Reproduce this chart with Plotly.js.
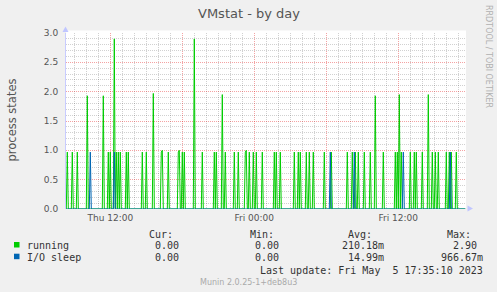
<!DOCTYPE html>
<html><head><meta charset="utf-8">
<script src="https://cdn.plot.ly/plotly-3.0.1.min.js"></script>
<style>html,body{margin:0;padding:0;background:#f0f0f0;}#chart{width:497px;height:292px;}</style>
</head><body><div id="chart"></div>
<script>
// ---- data (5-minute samples, zero elsewhere) ----
const startTime = 'Thu 08:20';
const endTime = 'Fri 17:35';
const runningTimes = [
  'Thu 08:25','Thu 08:50','Thu 09:15','Thu 10:05','Thu 11:25','Thu 11:50','Thu 12:00','Thu 12:20',
  'Thu 12:30','Thu 12:40','Thu 12:50','Thu 13:20','Thu 13:30','Thu 14:40','Thu 15:00','Thu 15:35',
  'Thu 16:15','Thu 16:20','Thu 16:50','Thu 17:40','Thu 17:45','Thu 18:00','Thu 18:10','Thu 19:00',
  'Thu 19:40','Thu 20:40','Thu 20:50','Thu 21:20','Thu 21:35','Thu 22:20','Thu 22:40','Thu 23:15',
  'Thu 23:20','Thu 23:35','Thu 23:55','Fri 00:10','Fri 00:40','Fri 01:40','Fri 01:50','Fri 02:10',
  'Fri 03:20','Fri 03:40','Fri 03:50','Fri 04:20','Fri 04:35','Fri 04:55','Fri 05:50','Fri 06:25',
  'Fri 07:45','Fri 08:10','Fri 08:25','Fri 08:40','Fri 09:10','Fri 09:40','Fri 10:05','Fri 10:45',
  'Fri 11:45','Fri 11:55','Fri 12:05','Fri 12:15','Fri 13:00','Fri 13:20','Fri 13:30','Fri 14:00',
  'Fri 14:30','Fri 14:50','Fri 15:05','Fri 15:20','Fri 16:00','Fri 16:15','Fri 16:25','Fri 16:50'
];
const runningValues = [
  0.97,0.97,0.97,1.93,1.93,0.97,0.97,2.90,
  0.97,0.97,0.97,0.97,0.97,0.97,0.97,1.97,
  0.97,1.00,0.97,0.97,1.00,0.97,0.97,2.90,
  0.97,0.97,0.97,1.95,0.97,0.97,0.97,0.97,
  1.00,0.97,0.97,0.97,0.97,0.97,0.97,0.97,
  0.97,0.97,0.97,0.97,0.97,0.97,0.97,0.97,
  0.97,0.97,0.97,0.97,0.97,0.97,1.93,0.97,
  0.97,0.97,1.95,0.97,0.97,0.97,0.97,0.97,
  1.95,0.97,0.97,0.97,0.97,0.97,0.97,0.97
];
const ioSleepTimes = ['Thu 10:20','Thu 12:20','Fri 06:20','Fri 08:20','Fri 12:25','Fri 16:20'];
const ioSleepValues = [0.97,0.97,0.97,0.97,0.97,0.97];

const xTickTimes = ['Thu 12:00','Thu 18:00','Fri 00:00','Fri 06:00','Fri 12:00'];
const xTickLabels = ['Thu 12:00','','Fri 00:00','','Fri 12:00'];
const yTickVals = [0,0.5,1.0,1.5,2.0,2.5,3.0];
const yTickLabels = ['0.0','0.5','1.0','1.5','2.0','2.5','3.0'];
const seriesNames = ['running','I/O sleep'];
const seriesColors = ['#00cc00','#0066b3'];
const statHeaders = ['Cur:','Min:','Avg:','Max:'];
const runningStats = ['0.00','0.00','210.18m','2.90'];
const ioSleepStats = ['0.00','0.00','14.99m','966.67m'];
const lastUpdate = 'Last update: Fri May \u00a05 17:35:10 2023';
const versionText = 'Munin 2.0.25-1+deb8u3';

// ---- helpers ----
function toHours(s){ const p=s.split(' '); const hm=p[1].split(':').map(Number); return (p[0]==='Fri'?24:0)+hm[0]+hm[1]/60; }
function buildSeries(times, vals){
  const m={}; times.forEach((t,i)=>{ m[Math.round(toHours(t)*12)] = vals[i]; });
  const s=Math.round(toHours(startTime)*12), e=Math.round(toHours(endTime)*12);
  const x=[], y=[];
  for(let k=s;k<=e;k++){ x.push(k/12); y.push(m[k]!==undefined?m[k]:0); }
  return {x,y};
}
const W=497,H=292, L=66, R=31, T=33, B=83;
const pw=W-L-R, ph=H-T-B;
const px=p=>(p-L)/pw, py=p=>(H-B-p)/ph;
const xRange=[12-(110.3-L)/12, 12+(W-R-110.3)/12];

// minor grid positions (hourly / every 0.1), skipping the major ones
const xMinor=[]; for(let h=Math.ceil(xRange[0]); h<=Math.floor(xRange[1]); h++){ if(h%6!==0) xMinor.push(h); }
const yMinor=[]; for(let k=1;k<30;k++){ if(k%5!==0) yMinor.push(k/10); }

const run=buildSeries(runningTimes,runningValues);
const io=buildSeries(ioSleepTimes,ioSleepValues);

const traces=[
  {x:run.x,y:run.y,type:'scatter',mode:'lines',line:{color:seriesColors[0],width:1},name:seriesNames[0],hoverinfo:'skip'},
  {x:io.x,y:io.y,type:'scatter',mode:'lines',line:{color:seriesColors[1],width:1},name:seriesNames[1],hoverinfo:'skip'}
];

const mono={family:'DejaVu Sans Mono',size:10,color:'#333'};
const ann=[];
function A(text,x,y,xa,font,extra){ ann.push(Object.assign({text:text,x:px(x),y:py(y),xref:'paper',yref:'paper',xanchor:xa,yanchor:'middle',showarrow:false,borderpad:0,borderwidth:0,font:font},extra||{})); }
A('VMstat - by day',249,13,'center',{family:'DejaVu Sans',size:13,color:'#555'});
A('process states',11,119.5,'center',{family:'DejaVu Sans',size:11.5,color:'#555'},{textangle:-90});
A('RRDTOOL / TOBI OETIKER',488.5,56.5,'center',{family:'DejaVu Sans',size:8,color:'#b0b0b0'},{textangle:90});
const headL=[149,249.7,348.3,447.3];
statHeaders.forEach((h,i)=>A(h,headL[i],234.3,'left',mono));
const colR=[179,279,384.3,477.3];
const colR2=[179,279,384.3,483.3];
A(seriesNames[0],27.3,245.7,'left',mono);
runningStats.forEach((v,i)=>A(v,colR[i],245.7,'right',mono));
A(seriesNames[1],27.3,257.3,'left',mono);
ioSleepStats.forEach((v,i)=>A(v,colR2[i],257.3,'right',mono));
A(lastUpdate,483.3,270,'right',mono);
A(versionText,248.5,282,'center',{family:'DejaVu Sans',size:8,color:'#aaa'});

const shapes=[
  {type:'rect',xref:'paper',yref:'paper',x0:px(66),x1:px(466),y0:py(33),y1:py(30.5),fillcolor:'#ffffff',line:{width:0},layer:'below'},
  {type:'rect',xref:'paper',yref:'paper',x0:px(14),x1:px(19.5),y0:py(242),y1:py(247.5),fillcolor:seriesColors[0],line:{width:0}},
  {type:'rect',xref:'paper',yref:'paper',x0:px(14),x1:px(19.5),y0:py(253.7),y1:py(259.2),fillcolor:seriesColors[1],line:{width:0}},
  {type:'path',xref:'paper',yref:'paper',path:`M ${px(65.5)} ${py(26.5)} L ${px(62.5)} ${py(32)} L ${px(68.5)} ${py(32)} Z`,fillcolor:'#c0c6ff',line:{width:0}},
  {type:'path',xref:'paper',yref:'paper',path:`M ${px(473)} ${py(208.5)} L ${px(467.5)} ${py(205.5)} L ${px(467.5)} ${py(211.5)} Z`,fillcolor:'#c0c6ff',line:{width:0}}
];

const majorGrid='rgba(225,0,0,0.36)', minorGrid='rgba(0,0,0,0.18)';
const layout={
  width:W,height:H,margin:{l:L,r:R,t:T,b:B,pad:0},
  paper_bgcolor:'#f0f0f0',plot_bgcolor:'#ffffff',showlegend:false,
  xaxis:{range:xRange,tickmode:'array',tickvals:xTickTimes.map(toHours),ticktext:xTickLabels,
    showgrid:true,gridcolor:majorGrid,griddash:'1px,1px',gridwidth:1,zeroline:false,showline:false,ticks:'',
    tickfont:{family:'DejaVu Sans',size:9,color:'#555'},ticklabelstandoff:2,
    minor:{tickmode:'array',tickvals:xMinor,showgrid:true,gridcolor:minorGrid,griddash:'1px,1px',gridwidth:1,ticks:''}},
  yaxis:{range:[0,3],tickmode:'array',tickvals:yTickVals,ticktext:yTickLabels,
    showgrid:true,gridcolor:majorGrid,griddash:'1px,1px',gridwidth:1,zeroline:false,
    showline:true,linecolor:'#c8ccff',linewidth:1,layer:'below traces',ticks:'',
    tickfont:{family:'DejaVu Sans',size:9,color:'#555'},ticklabelstandoff:5,
    minor:{tickmode:'array',tickvals:yMinor,showgrid:true,gridcolor:minorGrid,griddash:'1px,1px',gridwidth:1,ticks:''}},
  annotations:ann,shapes:shapes
};
Plotly.newPlot('chart',traces,layout,{staticPlot:true,displayModeBar:false});
</script></body></html>
